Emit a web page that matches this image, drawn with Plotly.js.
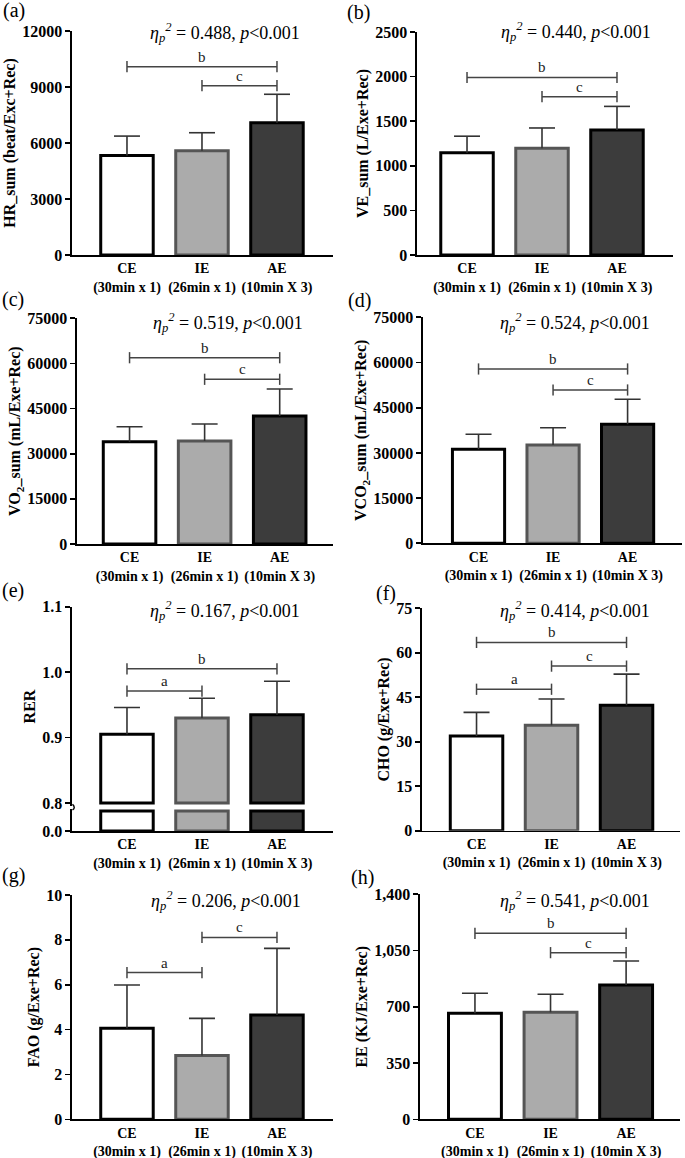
<!DOCTYPE html>
<html>
<head>
<meta charset="utf-8">
<script src="https://cdn.plot.ly/plotly-3.0.1.min.js"></script>
<style>html,body{margin:0;padding:0;background:#fff;}#chart{width:685px;height:1158px;}</style>
</head>
<body>
<div id="chart"></div>
<script>
// ---------- data ----------
const groups = ['CE', 'IE', 'AE'];
const groupSub = ['(30min x 1)', '(26min x 1)', '(10min X 3)'];

const hrMean = [5330, 5590, 7090];
const hrSd = [1040, 960, 1520];
const veMean = [1147, 1196, 1401];
const veSd = [185, 228, 265];
const vo2Mean = [34000, 34230, 42530];
const vo2Sd = [4980, 5650, 8970];
const vco2Mean = [31200, 32630, 39490];
const vco2Sd = [4970, 5720, 8300];
const rerMean = [0.905, 0.930, 0.935];
const rerSd = [0.041, 0.030, 0.051];
const choMean = [31.9, 35.6, 42.3];
const choSd = [8.0, 8.8, 10.5];
const faoMean = [4.06, 2.84, 4.65];
const faoSd = [1.93, 1.66, 2.97];
const eeMean = [660, 666, 836];
const eeSd = [124, 112, 149];

// significance brackets: [from group, to group, height, letter]
const hrSig = [[0, 2, 10090, 'b'], [1, 2, 9070, 'c']];
const veSig = [[0, 2, 1990, 'b'], [1, 2, 1775, 'c']];
const vo2Sig = [[0, 2, 61900, 'b'], [1, 2, 54730, 'c']];
const vco2Sig = [[0, 2, 57850, 'b'], [1, 2, 50880, 'c']];
const rerSig = [[0, 2, 1.005, 'b'], [0, 1, 0.971, 'a']];
const choSig = [[0, 2, 63.5, 'b'], [1, 2, 55.5, 'c'], [0, 1, 47.7, 'a']];
const faoSig = [[1, 2, 8.11, 'c'], [0, 1, 6.54, 'a']];
const eeSig = [[0, 2, 1157, 'b'], [1, 2, 1037, 'c']];

const panelLetters = ['(a)', '(b)', '(c)', '(d)', '(e)', '(f)', '(g)', '(h)'];
const etaValues = ['0.488', '0.440', '0.519', '0.524', '0.167', '0.414', '0.206', '0.541'];
const yTitles = [
  'HR_sum (beat/Exc+Rec)',
  'VE_sum (L/Exe+Rec)',
  'VO<sub>2</sub>_sum (mL/Exe+Rec)',
  'VCO<sub>2</sub>_sum (mL/Exe+Rec)',
  'RER',
  'CHO (g/Exe+Rec)',
  'FAO (g/Exe+Rec)',
  'EE (KJ/Exe+Rec)'
];

// ---------- layout geometry (px) ----------
const W = 685, H = 1158;
const SERIF = 'Liberation Serif';
const fillColors = ['#ffffff', '#ababab', '#3c3c3c'];
const lineColors = ['#000000', '#555555', '#000000'];

const panels = [
  {mean: hrMean, sd: hrSd, sig: hrSig, xdom: [72, 333], xr: [-0.733, 2.747], ydom: [31, 255], yr: [0, 12000], dtick: 3000, lab: [14, 11], eta: [225, 33]},
  {mean: veMean, sd: veSd, sig: veSig, xdom: [417, 673], xr: [-0.667, 2.747], ydom: [32, 255], yr: [0, 2500], dtick: 500, lab: [358, 12], eta: [576, 32]},
  {mean: vo2Mean, sd: vo2Sd, sig: vo2Sig, xdom: [77, 333], xr: [-0.70, 2.71], ydom: [318.3, 544], yr: [0, 75000], dtick: 15000, lab: [13, 299], eta: [228, 323]},
  {mean: vco2Mean, sd: vco2Sd, sig: vco2Sig, xdom: [423, 682], xr: [-0.745, 2.73], ydom: [317.3, 543.3], yr: [0, 75000], dtick: 15000, lab: [359, 300], eta: [575, 322]},
  {mean: rerMean, sd: rerSd, sig: rerSig, xdom: [72, 333], xr: [-0.733, 2.747], ydom: [606.7, 806.3], yr: [0.795, 1.1], dtick: 0.1, lab: [13, 590], eta: [225, 610], broken: true, lowDom: [809, 831], lowR: [0, 0.022], lowCap: 0.02, base: 0.8},
  {mean: choMean, sd: choSd, sig: choSig, xdom: [422, 680], xr: [-0.727, 2.713], ydom: [608.3, 830.7], yr: [0, 75], dtick: 15, lab: [386, 593], eta: [575, 610]},
  {mean: faoMean, sd: faoSd, sig: faoSig, xdom: [72, 333], xr: [-0.733, 2.747], ydom: [895, 1119.3], yr: [0, 10], dtick: 2, lab: [13, 875], eta: [226, 900]},
  {mean: eeMean, sd: eeSd, sig: eeSig, xdom: [420, 680], xr: [-0.727, 2.713], ydom: [894.3, 1119.3], yr: [0, 1400], dtick: 350, tickformat: ',d', lab: [362, 877], eta: [575, 900]}
];

const px2x = p => p / W;
const px2y = p => 1 - p / H;

const data = [];
const layout = {
  width: W, height: H,
  margin: {l: 0, r: 0, t: 0, b: 0},
  paper_bgcolor: '#ffffff', plot_bgcolor: 'rgba(0,0,0,0)',
  showlegend: false,
  bargap: 0,
  font: {family: SERIF, color: '#000'},
  annotations: [],
  shapes: []
};

const xTickText = groups.map((g, i) => g + '<br>' + groupSub[i]);
const catX = [0, 1, 2];

panels.forEach((p, k) => {
  const n = k + 1;
  const xn = 'x' + (n === 1 ? '' : n);
  const yn = 'y' + (n === 1 ? '' : n);
  const xKey = 'xaxis' + (n === 1 ? '' : n);
  const yKey = 'yaxis' + (n === 1 ? '' : n);
  const lowY = 'y9';
  const pxPerUnit = (p.xdom[1] - p.xdom[0]) / (p.xr[1] - p.xr[0]);
  const capHalf = 13 / pxPerUnit;

  // bars
  const base = p.base || 0;
  data.push({
    type: 'bar', x: catX, y: p.mean.map(v => v - base), base: base,
    width: 0.7, xaxis: xn, yaxis: yn,
    marker: {color: fillColors, line: {color: lineColors, width: 3}},
    hoverinfo: 'skip'
  });
  if (p.broken) {
    data.push({
      type: 'bar', x: catX, y: p.mean.map(v => Math.min(v, p.lowCap)),
      width: 0.7, xaxis: xn, yaxis: lowY,
      marker: {color: fillColors, line: {color: lineColors, width: 3}},
      hoverinfo: 'skip'
    });
  }

  // error bars (upper only)
  const ex = [], ey = [];
  p.mean.forEach((m, i) => {
    const top = m + p.sd[i];
    ex.push(i, i, null, i - capHalf, i + capHalf, null);
    ey.push(m, top, null, top, top, null);
  });
  data.push({
    type: 'scatter', mode: 'lines', x: ex, y: ey, xaxis: xn, yaxis: yn,
    line: {color: '#333333', width: 1.6}, hoverinfo: 'skip', cliponaxis: false
  });

  // significance brackets
  const bx = [], by = [];
  p.sig.forEach(s => {
    bx.push(s[0], s[1], null);
    by.push(s[2], s[2], null);
    layout.annotations.push({
      xref: xn, yref: yn, x: (s[0] + s[1]) / 2, y: s[2], yshift: 10,
      text: s[3], showarrow: false, font: {family: SERIF, size: 15, color: '#222'}
    });
  });
  data.push({
    type: 'scatter', mode: 'lines+markers', x: bx, y: by, xaxis: xn, yaxis: yn,
    line: {color: '#444444', width: 1.5},
    marker: {symbol: 'line-ns-open', size: 8, color: '#444444', line: {color: '#444444', width: 1.5}},
    hoverinfo: 'skip', cliponaxis: false
  });

  // axes
  layout[xKey] = {
    domain: [px2x(p.xdom[0]), px2x(p.xdom[1])],
    range: p.xr, anchor: p.broken ? lowY : yn,
    tickmode: 'array', tickvals: catX, ticktext: xTickText, ticks: '',
    tickfont: {family: SERIF, size: 14, weight: 'bold', color: '#000'},
    showline: true, linecolor: '#000', linewidth: 1.6,
    showgrid: false, zeroline: false, fixedrange: true
  };
  const yAx = {
    domain: [px2y(p.ydom[1]), px2y(p.ydom[0])],
    range: p.yr, anchor: xn,
    tick0: 0, dtick: p.dtick, tickformat: p.tickformat || 'd',
    ticks: 'outside', ticklen: 5, tickwidth: 1.6, tickcolor: '#000',
    tickfont: {family: SERIF, size: 16, weight: 'bold', color: '#000'},
    showline: true, linecolor: '#000', linewidth: 1.6,
    showgrid: false, zeroline: false, fixedrange: true,
    title: {text: yTitles[k], font: {family: SERIF, size: 16, weight: 'bold', color: '#000'}, standoff: 2}
  };
  if (p.broken) {
    yAx.tickmode = 'array';
    yAx.tickvals = [0.8, 0.9, 1.0, 1.1];
    yAx.ticktext = ['0.8', '0.9', '1.0', '1.1'];
    layout['yaxis9'] = {
      domain: [px2y(p.lowDom[1]), px2y(p.lowDom[0])],
      range: p.lowR, anchor: xn,
      tickmode: 'array', tickvals: [0], ticktext: ['0.0'],
      ticks: 'outside', ticklen: 5, tickwidth: 1.6, tickcolor: '#000',
      tickfont: {family: SERIF, size: 16, weight: 'bold', color: '#000'},
      showline: true, linecolor: '#000', linewidth: 1.6,
      showgrid: false, zeroline: false, fixedrange: true
    };
    // axis break mark
    layout.shapes.push({
      type: 'path', xref: 'paper', yref: 'paper',
      path: 'M ' + px2x(p.xdom[0] + 0.5) + ' ' + px2y(p.lowDom[0] + 1) +
            ' Q ' + px2x(p.xdom[0] + 4) + ' ' + px2y((p.lowDom[0] + p.ydom[1]) / 2) +
            ' ' + px2x(p.xdom[0] + 0.5) + ' ' + px2y(p.ydom[1] - 2),
      line: {color: '#000', width: 1.4}
    });
  }
  layout[yKey] = yAx;

  // panel letter
  layout.annotations.push({
    xref: 'paper', yref: 'paper', x: px2x(p.lab[0]), y: px2y(p.lab[1]),
    xanchor: 'center', yanchor: 'middle', showarrow: false,
    text: panelLetters[k], font: {family: SERIF, size: 20, color: '#000'}
  });
  // effect size
  layout.annotations.push({
    xref: 'paper', yref: 'paper', x: px2x(p.eta[0]), y: px2y(p.eta[1]),
    xanchor: 'center', yanchor: 'middle', showarrow: false,
    text: '<i>η<sub>p</sub><sup>2</sup></i> = ' + etaValues[k] + ', <i>p</i>&lt;0.001',
    font: {family: SERIF, size: 18, color: '#000'}
  });
});

Plotly.newPlot('chart', data, layout, {displayModeBar: false, staticPlot: true});
</script>
</body>
</html>
